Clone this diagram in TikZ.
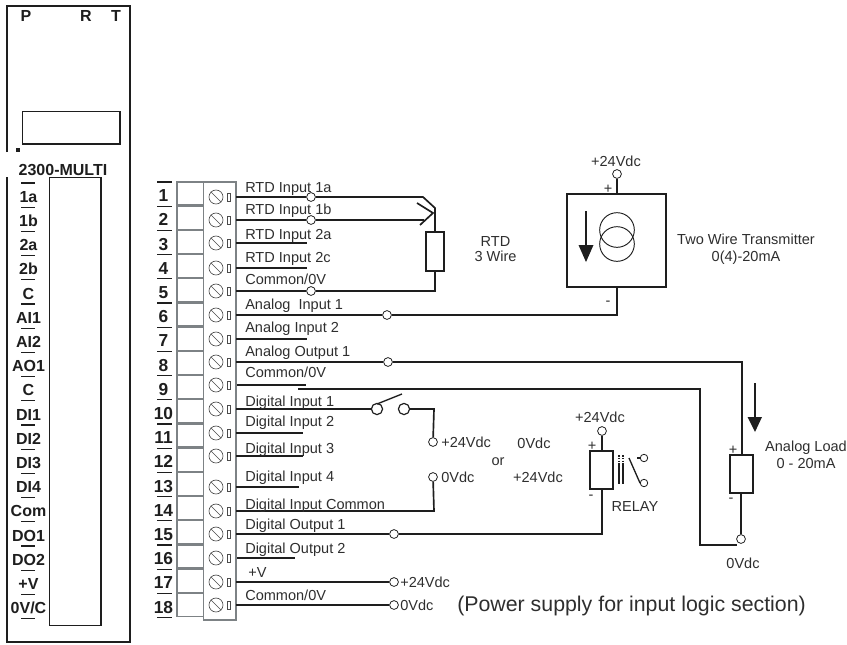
\documentclass[tikz,border=0pt]{standalone}
\usepackage{fontspec}
\setmainfont{Liberation Sans}
\definecolor{ink}{HTML}{1E1E1E}
\definecolor{txt}{HTML}{2E2E2E}
\definecolor{cellgray}{HTML}{7D8285}
\tikzset{
  wire/.style={draw=ink,line width=1.25pt},
  thinwire/.style={draw=ink,line width=1pt},
  term/.style={circle,draw=ink,line width=0.6pt,minimum size=6.6pt,inner sep=0pt},
  bigterm/.style={term,line width=0.9pt,minimum size=8.4pt},
  smallterm/.style={term,minimum size=5.6pt},
  lab/.style={anchor=base west,inner sep=0pt,text=txt,font=\fontsize{10.9}{12}\selectfont},
  ctr/.style={anchor=base,inner sep=0pt,text=txt,font=\fontsize{10.9}{12}\selectfont},
  boldlab/.style={anchor=base,inner sep=0pt,text=ink,font=\fontsize{12}{12}\selectfont\bfseries},
  panel/.style={draw=ink,line width=1pt},
  cell/.style={draw=cellgray,line width=0.9pt},
  comp/.style={draw=ink,line width=1.1pt,fill=white},
  hair/.style={draw=ink,line width=0.8pt},
  screw/.style={circle,draw=ink!80,line width=0.5pt,minimum size=10.5pt,inner sep=0pt},
  pin/.style={draw=ink!80,line width=0.5pt,minimum width=2.6pt,minimum height=6pt,inner sep=0pt},
}
\begin{document}
\begin{tikzpicture}[x=0.75pt,y=-0.75pt]
\useasboundingbox (0,0) rectangle (847,644);
% left panel
\draw[panel] (7,152) -- (7,6) -- (130,6) -- (130,642) -- (7,642) -- (7,177);
\node[draw=ink,line width=1pt,minimum width=73pt,minimum height=24.5pt,inner sep=0pt] (window) at (71.2,127.5) {};
\node[draw=ink,line width=1pt,minimum width=38.5pt,minimum height=336pt,inner sep=0pt] (slot) at (75.2,401.7) {};
\node[fill=ink,minimum size=3pt,inner sep=0pt] (dot) at (17.5,149.5) {};
\node[boldlab] (lp) at (26,21) {P};
\node[boldlab] (lr) at (86,21) {R};
\node[boldlab] (lt) at (116,21) {T};
\node[boldlab] (lname) at (63,175) {2300-MULTI};
\foreach \i/\t in {1/1a,2/1b,3/2a,4/2b,5/C,6/AI1,7/AI2,8/AO1,9/C,10/DI1,11/DI2,12/DI3,13/DI4,14/Com,15/DO1,16/DO2,17/+V,18/{0V/C}}{
  \pgfmathsetmacro{\yy}{183+24.2*\i-5}
  \node[boldlab] (pl\i) at (28.5,\yy) {\t};
}
\foreach \i in {0,...,18}{
  \pgfmathsetmacro{\yy}{183+24.2*\i}
  \draw[hair] (21,\yy) -- (35,\yy);
  \pgfmathsetmacro{\yz}{182+24.2*\i}
  \draw[hair] (157,\yz) -- (172,\yz);
}
% terminal block
\foreach \i in {1,...,18}{
  \pgfmathsetmacro{\yy}{182+24.2*\i-4.5}
  \node[boldlab,font=\fontsize{13}{13}\selectfont\bfseries] (num\i) at (163.5,\yy) {\i};
  \pgfmathsetmacro{\ya}{182+24.2*(\i-1)}
  \pgfmathsetmacro{\yb}{\ya+23}
  \draw[cell] (177,\ya) rectangle (203.5,\yb);
}
\draw[cell] (203.5,182) rectangle (236,620);
\foreach \i/\y in {1/197,2/220,3/243,4/268,5/291,6/315,7/339,8/362,9/385,10/409,11/433,12/456,13/487,14/511,15/534,16/558,17/582,18/605}{
  \node[screw] (sc\i) at (216,\y) {};
  \draw[ink!80,line width=0.5pt] (sc\i.135) -- (sc\i.-45);
  \node[pin] (pn\i) at (229,\y) {};
  \coordinate (t\i) at (236,\y);
}
% stub ends
\coordinate (e3) at (307,243);
\coordinate (e4) at (307,268);
\coordinate (e7) at (307,339);
\coordinate (s9) at (237,385);
\coordinate (e9) at (306,385);
\coordinate (e11) at (303,433);
\coordinate (e12) at (303,456);
\coordinate (e13) at (299,487);
\coordinate (s16) at (237,558);
\coordinate (e16) at (295,558);
\draw[wire] (t3) -- (e3);
\draw[wire] (t4) -- (e4);
\draw[wire] (t7) -- (e7);
\draw[wire] (s9) -- (e9);
\draw[wire] (t11) -- (e11);
\draw[thinwire] (t12) -- (e12);
\draw[wire] (t13) -- (e13);
\draw[wire] (s16) -- (e16);
% RTD
\node[term] (c1) at (311,197) {};
\node[term] (c2) at (311,220) {};
\node[term] (c5) at (311,291) {};
\node[comp,minimum width=13.5pt,minimum height=29pt,inner sep=0pt] (rtd) at (435,251.5) {};
\coordinate (k1) at (423,197);
\coordinate (k2) at (435,208);
\coordinate (k3) at (424,220);
\coordinate (ch1) at (417,203);
\coordinate (ch2) at (433,213);
\coordinate (ch3) at (420,225);
\coordinate (k5) at (435,291);
\draw[wire] (t1) -- (c1);
\draw[wire] (c1) -- (k1) -- (k2) -- (rtd.north);
\draw[wire] (t2) -- (c2);
\draw[wire] (c2) -- (k3);
\draw[wire] (ch1) -- (ch2) -- (ch3);
\draw[wire] (t5) -- (c5);
\draw[wire] (c5) -- (k5) -- (rtd.south);
\node[ctr] (rtdt1) at (495.5,246) {RTD};
\node[ctr] (rtdt2) at (495.5,261) {3 Wire};
% transmitter
\node[comp,minimum width=74pt,minimum height=70pt,inner sep=0pt] (tx) at (616.5,240.5) {};
\node[term] (txp) at (617,174) {};
\node[ctr] (txv) at (616,166) {+24Vdc};
\draw[wire] (txp) -- (617,194);
\node[ctr] (txplus) at (608,193) {+};
\node[ctr] (txminus) at (608,305) {-};
\coordinate (tk) at (617,315);
\node[term] (c6) at (387,315) {};
\draw[wire] (t6) -- (c6);
\draw[wire] (c6) -- (tk) -- (tx.south -| tk);
\node[circle,draw=ink,line width=0.7pt,minimum size=26pt,inner sep=0pt] (ci1) at (617,230) {};
\node[circle,draw=ink,line width=0.7pt,minimum size=26pt,inner sep=0pt] (ci2) at (617,244) {};
\coordinate (ta1) at (586,211);
\coordinate (ta2) at (586,246);
\draw[wire] (ta1) -- (ta2);
\fill[ink] (578.5,245) -- (593.5,245) -- (586,262) -- cycle;
\node[ctr] (txt1) at (746,244) {Two Wire Transmitter};
\node[ctr] (txt2) at (746,261) {0(4)-20mA};
% analog load
\node[term] (c8) at (388,362) {};
\node[comp,minimum width=17.5pt,minimum height=28.5pt,inner sep=0pt] (load) at (741.5,474) {};
\node[term] (lo) at (741,539) {};
\coordinate (k8) at (742,362);
\draw[wire] (t8) -- (c8);
\draw[wire] (c8) -- (k8) -- (load.north -| k8);
\draw[wire] (load.south -| lo) -- (lo);
\coordinate (la1) at (755,383);
\coordinate (la2) at (755,418);
\draw[wire] (la1) -- (la2);
\fill[ink] (747.5,417) -- (762,417) -- (755,432) -- cycle;
\node[ctr] (lplus) at (733,454) {+};
\node[ctr] (lminus) at (731,502) {-};
\node[ctr] (lt1) at (806,451) {Analog Load};
\node[ctr] (lt2) at (806,468) {0 - 20mA};
\node[ctr] (lt3) at (743,568) {0Vdc};
% common return
\coordinate (r1) at (298,389);
\coordinate (r2) at (700,389);
\coordinate (r3) at (700,545);
\coordinate (r4) at (737,545);
\draw[thinwire] (r1) -- (r2) -- (r3) -- (r4);
% switch
\node[bigterm] (sw1) at (377,409) {};
\node[bigterm] (sw2) at (404,409) {};
\coordinate (arm1) at (377,404);
\coordinate (arm2) at (402,394);
\draw[thinwire] (arm1) -- (arm2);
\node[term] (p24) at (433,442) {};
\node[term] (p0) at (433,477) {};
\coordinate (k10) at (434,409);
\coordinate (k14) at (434,511);
\draw[wire] (t10) -- (sw1);
\draw[wire] (sw2) -- (k10) -- (p24);
\draw[wire] (t14) -- (k14) -- (p0);
\node[lab] (v1) at (441,447) {+24Vdc};
\node[lab] (v2) at (441,482) {0Vdc};
\node[ctr] (vor) at (498,465) {or};
\node[ctr] (v3) at (534,448) {0Vdc};
\node[ctr] (v4) at (538,482) {+24Vdc};
% relay
\node[comp,minimum width=17pt,minimum height=28.5pt,inner sep=0pt] (rel) at (601.5,470) {};
\node[term] (rp) at (602,431) {};
\node[term] (c15) at (394,534) {};
\coordinate (k15) at (602,534);
\draw[wire] (rp) -- (rel.north -| rp);
\draw[wire] (t15) -- (c15);
\draw[wire] (c15) -- (k15) -- (rel.south -| k15);
\node[ctr] (v5) at (600,422) {+24Vdc};
\node[ctr] (rplus) at (592,450) {+};
\node[ctr] (rminus) at (591,499) {-};
\coordinate (co1) at (619,463);
\coordinate (co2) at (619,484);
\coordinate (co3) at (623,463);
\coordinate (co4) at (623,484);
\coordinate (cd1) at (619,455);
\coordinate (cd3) at (623,455);
\draw[ink,line width=0.8pt] (co1) -- (co2);
\draw[ink,line width=0.8pt] (co3) -- (co4);
\draw[ink,line width=0.8pt,dash pattern=on 1.2pt off 0.9pt] (cd1) -- (co1);
\draw[ink,line width=0.8pt,dash pattern=on 1.2pt off 0.9pt] (cd3) -- (co3);
\node[smallterm] (ct1) at (644,458) {};
\node[smallterm] (ct2) at (644,483) {};
\coordinate (bl1) at (629,458);
\coordinate (bl2) at (640,483);
\coordinate (st1) at (637,458);
\draw[thinwire] (bl1) -- (bl2) -- (ct2);
\draw[thinwire] (st1) -- (ct1);
\node[ctr] (relt) at (635,511) {RELAY};
% power
\node[term] (c17) at (394,582) {};
\node[term] (c18) at (394,605) {};
\draw[wire] (t17) -- (c17);
\draw[wire] (t18) -- (c18);
\node[lab] (v6) at (400,587) {+24Vdc};
\node[lab] (v7) at (400,610) {0Vdc};
\node[lab,font=\fontsize{16}{18}\selectfont] (pw) at (457,611) {(Power supply for input logic section)};
% terminal labels
\foreach \n/\x/\y/\t in {1/245/192/{RTD Input 1a},2/245/214/{RTD Input 1b},3/245/239/{RTD Input 2a},4/245/262/{RTD Input 2c},5/245/284/{Common/0V},6/245/309/{Analog\ \ Input 1},7/245/332/{Analog Input 2},8/245/356/{Analog Output 1},9/245/377/{Common/0V},10/245/406/{Digital Input 1},11/245/426/{Digital Input 2},12/245/453/{Digital Input 3},13/245/481/{Digital Input 4},14/245/509/{Digital Input Common},15/245/529/{Digital Output 1},16/245/553/{Digital Output 2},17/248/577/{+V},18/245/600/{Common/0V}}{
  \node[lab] (tl\n) at (\x,\y) {\t};
}
\end{tikzpicture}
\end{document}
